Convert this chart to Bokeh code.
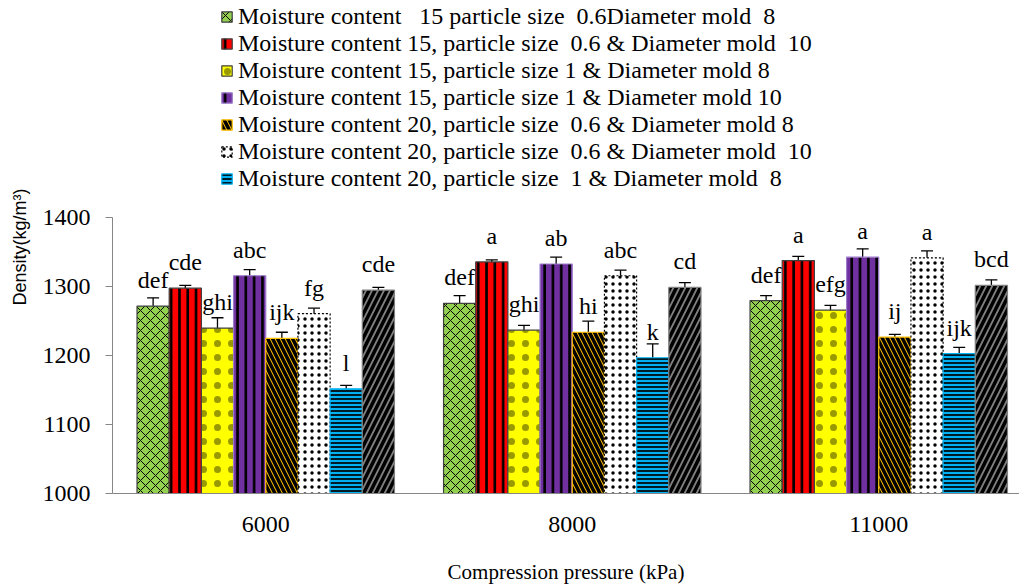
from bokeh.plotting import figure
from bokeh.models import (ColumnDataSource, Range1d, FixedTicker, Whisker, TeeHead,
                          LabelSet, Legend, LegendItem)
from bokeh.core.properties import value
from bokeh.embed import file_html
from bokeh.resources import INLINE

# Compression pressure groups (kPa)
pressures = ["6000", "8000", "11000"]

# Series names (moisture content %, particle size mm, mold diameter mm)
series_names = [
    "Moisture content\u00a0\u00a0 15 particle size\u00a0 0.6Diameter mold\u00a0 8",
    "Moisture content 15, particle size\u00a0 0.6 & Diameter mold\u00a0 10",
    "Moisture content 15, particle size 1 & Diameter mold 8",
    "Moisture content 15, particle size 1 & Diameter mold 10",
    "Moisture content 20, particle size\u00a0 0.6 & Diameter mold 8",
    "Moisture content 20, particle size\u00a0 0.6 & Diameter mold\u00a0 10",
    "Moisture content 20, particle size\u00a0 1 & Diameter mold\u00a0 8",
    "Moisture content 20, particle size 1 & Diameter mold 10",
]

# Mean density (kg/m3) per pressure
density_mc15_p06_d8 = [1272, 1276, 1280]
density_mc15_p06_d10 = [1298, 1336, 1338]
density_mc15_p1_d8 = [1240, 1237, 1266]
density_mc15_p1_d10 = [1316, 1333, 1343]
density_mc20_p06_d8 = [1225, 1234, 1227]
density_mc20_p06_d10 = [1261, 1316, 1342]
density_mc20_p1_d8 = [1152, 1197, 1203]
density_mc20_p1_d10 = [1295, 1299, 1302]

# Standard error (kg/m3)
err_mc15_p06_d8 = [12, 11, 7]
err_mc15_p06_d10 = [4, 3, 6]
err_mc15_p1_d8 = [15, 7, 7]
err_mc15_p1_d10 = [9, 10, 12]
err_mc20_p06_d8 = [9, 16, 4]
err_mc20_p06_d10 = [8, 8, 10]
err_mc20_p1_d8 = [5, 20, 9]
err_mc20_p1_d10 = [4, 7, 8]

# Duncan grouping letters
letters_mc15_p06_d8 = ["def", "def", "def"]
letters_mc15_p06_d10 = ["cde", "a", "a"]
letters_mc15_p1_d8 = ["ghi", "ghi", "efg"]
letters_mc15_p1_d10 = ["abc", "ab", "a"]
letters_mc20_p06_d8 = ["ijk", "hi", "ij"]
letters_mc20_p06_d10 = ["fg", "abc", "a"]
letters_mc20_p1_d8 = ["l", "k", "ijk"]
letters_mc20_p1_d10 = ["cde", "cd", "bcd"]

densities = [density_mc15_p06_d8, density_mc15_p06_d10, density_mc15_p1_d8, density_mc15_p1_d10,
             density_mc20_p06_d8, density_mc20_p06_d10, density_mc20_p1_d8, density_mc20_p1_d10]
errors = [err_mc15_p06_d8, err_mc15_p06_d10, err_mc15_p1_d8, err_mc15_p1_d10,
          err_mc20_p06_d8, err_mc20_p06_d10, err_mc20_p1_d8, err_mc20_p1_d10]
letters = [letters_mc15_p06_d8, letters_mc15_p06_d10, letters_mc15_p1_d8, letters_mc15_p1_d10,
           letters_mc20_p06_d8, letters_mc20_p06_d10, letters_mc20_p1_d8, letters_mc20_p1_d10]

SERIF = "Liberation Serif, Times New Roman, serif"

# Bar styles: fill, hatch pattern, hatch scale, hatch weight, hatch alpha, outline colour, outline dash
styles = [
    dict(fill_color="#92D050", hatch_pattern="x", hatch_scale=10, hatch_weight=1.0, hatch_alpha=1.0, line_color="#404040", line_dash="solid"),
    dict(fill_color="#FF0000", hatch_pattern="|", hatch_scale=8.3, hatch_weight=2.6, hatch_alpha=1.0, line_color="#404040", line_dash="solid"),
    dict(fill_color="#FFFF00", hatch_pattern=".", hatch_scale=14, hatch_weight=0.5, hatch_alpha=0.4, line_color="#404040", line_dash="solid"),
    dict(fill_color="#7030A0", hatch_pattern="|", hatch_scale=8.3, hatch_weight=2.6, hatch_alpha=1.0, line_color="#9B7BC8", line_dash="solid"),
    dict(fill_color="#FFC000", hatch_pattern="\\", hatch_scale=10, hatch_weight=3.5, hatch_alpha=1.0, line_color="#FFC000", line_dash="solid"),
    dict(fill_color="#FFFFFF", hatch_pattern=".", hatch_scale=7, hatch_weight=1.0, hatch_alpha=1.0, line_color="black", line_dash="2 2"),
    dict(fill_color="#00B0F0", hatch_pattern="-", hatch_scale=4, hatch_weight=1.7, hatch_alpha=1.0, line_color="#00B0F0", line_dash="solid"),
    dict(fill_color="#808080", hatch_pattern="/", hatch_scale=12, hatch_weight=3.5, hatch_alpha=1.0, line_color="#808080", line_dash="solid"),
]

n_series = len(densities)
bar_w = 0.105

p = figure(width=1019, height=586, output_backend="svg", toolbar_location=None,
           x_range=Range1d(0, 2.9592), y_range=Range1d(1000, 1715.4),
           min_border_left=112, min_border_right=0, min_border_top=0, min_border_bottom=93)
p.outline_line_color = None
p.grid.visible = False
p.background_fill_color = "white"
p.border_fill_color = "white"

renderers = []
for i in range(n_series):
    xs = [g + 0.5 + (i - (n_series - 1) / 2) * bar_w for g in range(len(pressures))]
    src = ColumnDataSource(dict(
        x=xs,
        top=densities[i],
        upper=[d + e for d, e in zip(densities[i], errors[i])],
        lower=[d - e for d, e in zip(densities[i], errors[i])],
        letter=letters[i],
    ))
    st = styles[i]
    r = p.vbar(x="x", top="top", bottom=1000, width=bar_w, source=src,
               fill_color=st["fill_color"], line_color=st["line_color"], line_width=1.2,
               line_dash=st["line_dash"], hatch_pattern=st["hatch_pattern"], hatch_color="black",
               hatch_scale=st["hatch_scale"], hatch_weight=st["hatch_weight"],
               hatch_alpha=st["hatch_alpha"])
    renderers.append(r)

    p.add_layout(Whisker(source=src, base="x", upper="upper", lower="lower",
                         line_color="black", line_width=1.3,
                         upper_head=TeeHead(size=12, line_color="black", line_width=1.3),
                         lower_head=TeeHead(size=12, line_color="black", line_width=1.3)))

    p.add_layout(LabelSet(x="x", y="top", text="letter", source=src,
                          text_align="center", text_baseline="alphabetic", y_offset=18,
                          text_font=value(SERIF), text_font_size=value("24px"),
                          text_color="black"))

# Legend (first seven series)
legend = Legend(items=[LegendItem(label=series_names[i], renderers=[renderers[i]]) for i in range(7)],
                location=(108, 301.5), orientation="vertical",
                label_text_font=SERIF, label_text_font_size="24px",
                label_text_color="black", glyph_width=13, glyph_height=13,
                label_height=27, label_standoff=5, spacing=0, padding=0, margin=0,
                border_line_color=None, background_fill_alpha=0)
p.add_layout(legend)

# Y axis
ya = p.yaxis[0]
ya.ticker = FixedTicker(ticks=[1000, 1100, 1200, 1300, 1400])
ya.bounds = (1000, 1400)
ya.axis_line_color = "#868686"
ya.major_tick_line_color = "#868686"
ya.major_tick_out = 7
ya.major_tick_in = 0
ya.minor_tick_line_color = None
ya.major_label_text_font = SERIF
ya.major_label_text_font_size = "24px"
ya.major_label_text_color = "black"
ya.major_label_standoff = 15
ya.axis_label = "Density(kg/m³)"
ya.axis_label_text_font = "Liberation Sans, Arial, sans-serif"
ya.axis_label_text_font_size = "18px"
ya.axis_label_text_font_style = "normal"
ya.axis_label_text_color = "black"
ya.axis_label_standoff = 10

# X axis
xa = p.xaxis[0]
xa.ticker = FixedTicker(ticks=[g + 0.5 for g in range(len(pressures))])
xa.major_label_overrides = {g + 0.5: pressures[g] for g in range(len(pressures))}
xa.axis_line_color = "#868686"
xa.major_tick_line_color = None
xa.minor_tick_line_color = None
xa.major_label_text_font = SERIF
xa.major_label_text_font_size = "24px"
xa.major_label_text_color = "black"
xa.major_label_standoff = 17
xa.axis_label = "Compression pressure (kPa)"
xa.axis_label_text_font = SERIF
xa.axis_label_text_font_size = "21px"
xa.axis_label_text_font_style = "normal"
xa.axis_label_text_color = "black"
xa.axis_label_standoff = 25

open("out.html", "w").write(file_html(p, INLINE))
